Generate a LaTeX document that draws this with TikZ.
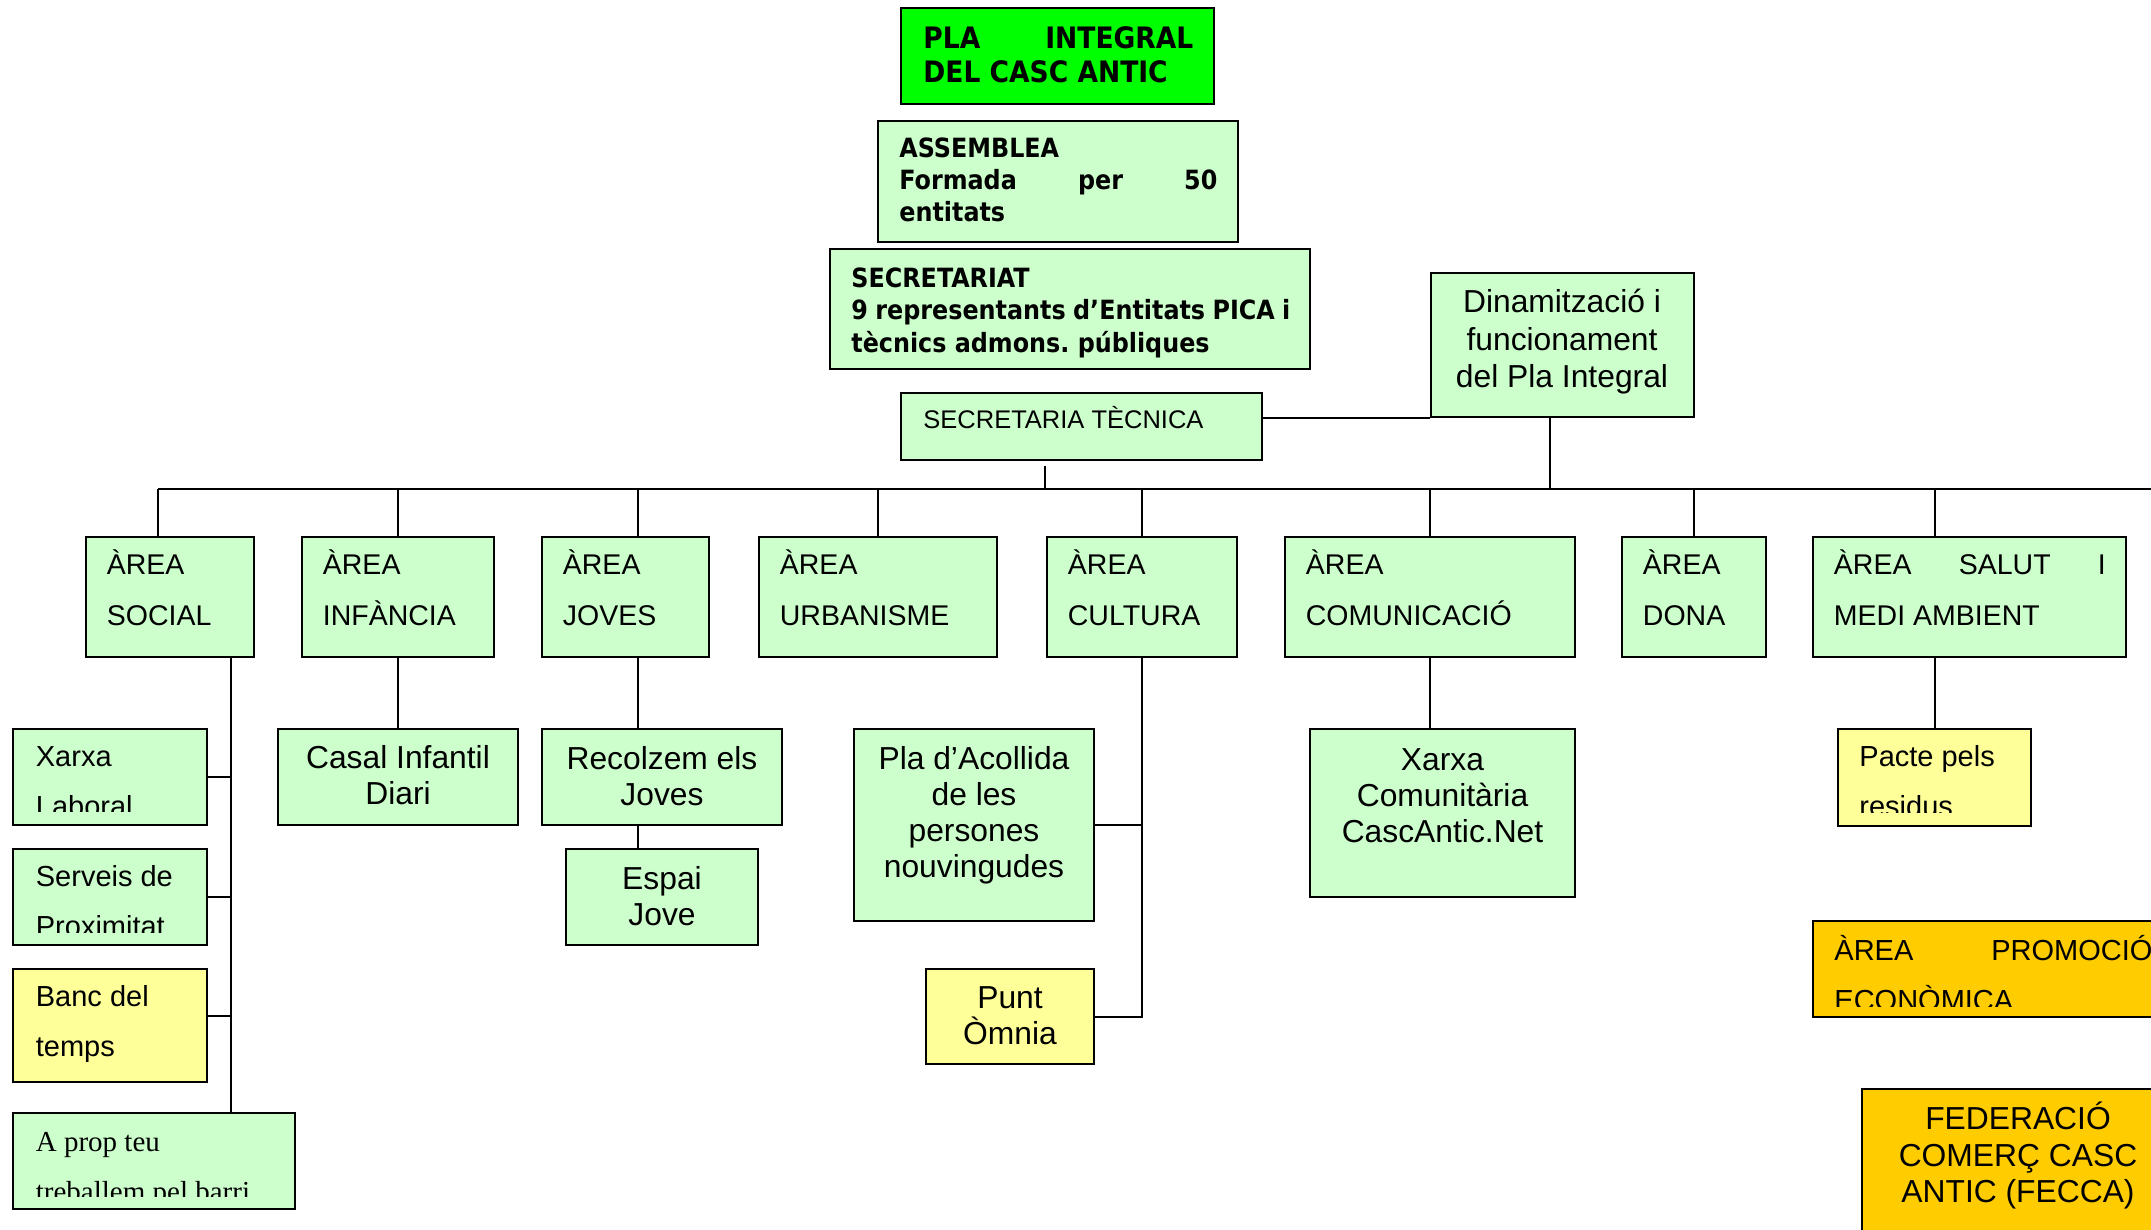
\documentclass[tikz,border=0pt]{standalone}
\usepackage{fontspec}
\setmainfont{Liberation Sans}
\newfontfamily\tnrfont{Liberation Serif}
\newfontfamily\vbfont{DejaVu Sans Condensed Bold}
\usetikzlibrary{fit,calc}
\definecolor{lgreen}{HTML}{CCFFCC}
\definecolor{bgreen}{HTML}{00FF00}
\definecolor{lyellow}{HTML}{FFFF99}
\definecolor{lorange}{HTML}{FFCC00}
\newcommand\LLines[2]{\vtop{\baselineskip=#1\relax\lineskiplimit=-100pt\lineskip=0pt\halign{##\hfil\cr#2\crcr}}}
\newcommand\CLines[2]{\vtop{\baselineskip=#1\relax\lineskiplimit=-100pt\lineskip=0pt\halign{\hfil##\hfil\cr#2\crcr}}}
\tikzset{
  boxbase/.style={draw=black, line width=1pt, inner sep=0pt},
  gbox/.style={boxbase, fill=lgreen},
  bbox/.style={boxbase, fill=bgreen},
  ybox/.style={boxbase, fill=lyellow},
  obox/.style={boxbase, fill=lorange},
  conn/.style={draw=black, line width=1pt},
  ltxt/.style={inner sep=0pt, anchor=base west},
  ctxt/.style={inner sep=0pt, anchor=base},
  fA/.style={font=\fontsize{14.25pt}{25.5pt}\selectfont},
  fS/.style={font=\fontsize{14.5pt}{25pt}\selectfont},
  fR/.style={font=\tnrfont\fontsize{14.5pt}{25pt}\selectfont},
  fC/.style={font=\fontsize{15.9pt}{18pt}\selectfont},
  fT/.style={font=\fontsize{12.75pt}{15pt}\selectfont},
  fBa/.style={font=\vbfont\fontsize{14.75pt}{17pt}\selectfont},
  fBb/.style={font=\vbfont\fontsize{13.25pt}{16pt}\selectfont},
}
\begin{document}
\begin{tikzpicture}[x=0.5pt,y=-0.5pt]
\useasboundingbox (0,0) rectangle (2151,1230);
\clip (0,0) rectangle (2151,1230);

% ---------- top boxes
\node[bbox, fit={(901,8) (1214,104)}] (pla) {};
\node[gbox, fit={(878,121) (1238,242)}] (assem) {};
\node[gbox, fit={(830,249) (1310,369)}] (secr) {};
\node[gbox, fit={(901,393) (1262,460)}] (sectec) {};
\node[gbox, fit={(1431,273) (1694,417)}] (dinam) {};

% ---------- area boxes
\node[gbox, fit={(86,537) (254,657)}] (asocial) {};
\node[gbox, fit={(302,537) (494,657)}] (ainf) {};
\node[gbox, fit={(542,537) (709,657)}] (ajoves) {};
\node[gbox, fit={(759,537) (997,657)}] (aurb) {};
\node[gbox, fit={(1047,537) (1237,657)}] (acult) {};
\node[gbox, fit={(1285,537) (1575,657)}] (acom) {};
\node[gbox, fit={(1622,537) (1766,657)}] (adona) {};
\node[gbox, fit={(1813,537) (2126,657)}] (asalut) {};

% ---------- child boxes
\node[gbox, fit={(13,729) (207,825)}] (xarxal) {};
\node[gbox, fit={(13,849) (207,945)}] (serveis) {};
\node[ybox, fit={(13,969) (207,1082)}] (banc) {};
\node[gbox, fit={(13,1113) (295,1209)}] (aprop) {};
\node[gbox, fit={(278,729) (518,825)}] (casal) {};
\node[gbox, fit={(542,729) (782,825)}] (recol) {};
\node[gbox, fit={(566,849) (758,945)}] (espai) {};
\node[gbox, fit={(854,729) (1094,921)}] (placoll) {};
\node[ybox, fit={(926,969) (1094,1064)}] (punt) {};
\node[gbox, fit={(1310,729) (1575,897)}] (xcom) {};
\node[ybox, fit={(1838,729) (2031,826)}] (pacte) {};
\node[obox, fit={(1813,921) (2200,1017)}] (promo) {};
\node[obox, fit={(1862,1089) (2174,1260)}] (fecca) {};

% ---------- texts of top boxes
\node[ltxt, fBa] (tpla) at (923,49) {\LLines{17pt}{\hbox to 135pt{PLA\hfill INTEGRAL}\cr DEL CASC ANTIC}};
\node[ltxt, fBb] (tassem) at (899,158) {\LLines{16pt}{ASSEMBLEA\cr \hbox to 159pt{Formada\hfill per\hfill 50}\cr entitats}};
\node[ltxt, fBb] (tsecr) at (851,287) {\LLines{16.25pt}{SECRETARIAT\cr \hbox to 219.5pt{9\hfill representants\hfill d’Entitats\hfill PICA\hfill i}\cr tècnics admons.\ públiques}};
\node[ltxt, fT] (tsectec) at (923,428) {SECRETARIA TÈCNICA};
\node[ctxt, fC] (tdinam) at (1562,313) {\CLines{18.5pt}{Dinamització i\cr funcionament\cr del Pla Integral}};

% ---------- texts of area boxes
\node[ltxt, fA] (tsocial) at (106.5,574) {\LLines{25.5pt}{ÀREA\cr SOCIAL}};
\node[ltxt, fA] (tinf) at (322.5,574) {\LLines{25.5pt}{ÀREA\cr INFÀNCIA}};
\node[ltxt, fA] (tjoves) at (562.5,574) {\LLines{25.5pt}{ÀREA\cr JOVES}};
\node[ltxt, fA] (turb) at (779.5,574) {\LLines{25.5pt}{ÀREA\cr URBANISME}};
\node[ltxt, fA] (tcult) at (1067.5,574) {\LLines{25.5pt}{ÀREA\cr CULTURA}};
\node[ltxt, fA] (tcom) at (1305.5,574) {\LLines{25.5pt}{ÀREA\cr COMUNICACIÓ}};
\node[ltxt, fA] (tdona) at (1642.5,574) {\LLines{25.5pt}{ÀREA\cr DONA}};
\node[ltxt, fA] (tsalut) at (1833.5,574) {\LLines{25.5pt}{\hbox to 136pt{ÀREA\hfill SALUT\hfill I}\cr MEDI AMBIENT}};

% ---------- texts of child boxes (centred)
\node[ctxt, fC] (tcasal) at (398,768) {\CLines{18pt}{Casal Infantil\cr Diari}};
\node[ctxt, fC] (trecol) at (662,769) {\CLines{18pt}{Recolzem els\cr Joves}};
\node[ctxt, fC] (tespai) at (662,889) {\CLines{18pt}{Espai\cr Jove}};
\node[ctxt, fC] (tplacoll) at (974,769) {\CLines{18pt}{Pla d’Acollida\cr de les\cr persones\cr nouvingudes}};
\node[ctxt, fC] (tpunt) at (1010,1008) {\CLines{18pt}{Punt\cr Òmnia}};
\node[ctxt, fC] (txcom) at (1442.5,770) {\CLines{18pt}{Xarxa\cr Comunitària\cr CascAntic.Net}};
\node[ctxt, fC] (tfecca) at (2018,1129.5) {\CLines{18.35pt}{FEDERACIÓ\cr COMERÇ CASC\cr ANTIC (FECCA)}};

% ---------- texts of child boxes (left, clipped)
\begin{scope}
\clip (13,729) rectangle (207,811.5);
\node[ltxt, fS] (txarxal) at (35.5,766) {\LLines{25pt}{Xarxa\cr Laboral}};
\end{scope}
\begin{scope}
\clip (13,849) rectangle (207,932);
\node[ltxt, fS] (tserveis) at (35.5,886.5) {\LLines{25pt}{Serveis de\cr Proximitat}};
\end{scope}
\node[ltxt, fS] (tbanc) at (35.5,1006) {\LLines{25.35pt}{Banc del\cr temps}};
\begin{scope}
\clip (13,1113) rectangle (295,1196.5);
\node[ltxt, fR] (taprop) at (35.5,1151) {\LLines{25pt}{A prop teu\cr treballem pel barri}};
\end{scope}
\begin{scope}
\clip (1838,729) rectangle (2031,812);
\node[ltxt, fS] (tpacte) at (1859,766.5) {\LLines{25pt}{Pacte pels\cr residus}};
\end{scope}
\begin{scope}
\clip (1813,921) rectangle (2200,1006);
\node[ltxt, fS] (tpromo) at (1834,960) {\LLines{25pt}{\makebox[78.5pt][l]{ÀREA}PROMOCIÓ\cr ECONÒMICA}};
\end{scope}

% ---------- connectors
\coordinate (busL) at (158,489);
\coordinate (busR) at (2160,489);
\coordinate (tdrop) at (1045,489);
\coordinate (ddrop) at (1550,489);
\coordinate (jx) at (638,489);
\coordinate (sx) at (231,489);

\draw[conn] (sectec.east |- dinam.south west) -- (dinam.south west);
\draw[conn] ($(sectec.south -| tdrop)+(0,5)$) -- (tdrop);
\draw[conn] (ddrop |- dinam.south) -- (ddrop);
\draw[conn] (busL) -- (busR);

\draw[conn] (busL) -- (busL |- asocial.north);
\draw[conn] (busL -| ainf.north) -- (ainf.north);
\draw[conn] (jx) -- (jx |- ajoves.north);
\draw[conn] (busL -| aurb.north) -- (aurb.north);
\draw[conn] (busL -| acult.north) -- (acult.north);
\draw[conn] (busL -| dinam.south west) -- (acom.north -| dinam.south west);
\draw[conn] (busL -| adona.north) -- (adona.north);
\draw[conn] (busL -| pacte.north) -- (asalut.north -| pacte.north);

% social
\draw[conn] (asocial.south -| sx) -- (aprop.north -| sx);
\draw[conn] (xarxal.east) -- (xarxal.east -| sx);
\draw[conn] (serveis.east) -- (serveis.east -| sx);
\draw[conn] ($(banc.north east)+(0,48)$) -- ($(banc.north east -| sx)+(0,48)$);
% infancia
\draw[conn] (ainf.south) -- (casal.north);
% joves
\draw[conn] (ajoves.south -| jx) -- (recol.north -| jx);
\draw[conn] (recol.south -| jx) -- (espai.north -| jx);
% cultura
\draw[conn] (acult.south) -- (acult.south |- punt.east) -- (punt.east);
\draw[conn] (placoll.east) -- (placoll.east -| acult.south);
% comunicacio
\draw[conn] (acom.south -| dinam.south west) -- (xcom.north -| dinam.south west);
% salut
\draw[conn] (asalut.south -| pacte.north) -- (pacte.north);
\end{tikzpicture}
\end{document}
